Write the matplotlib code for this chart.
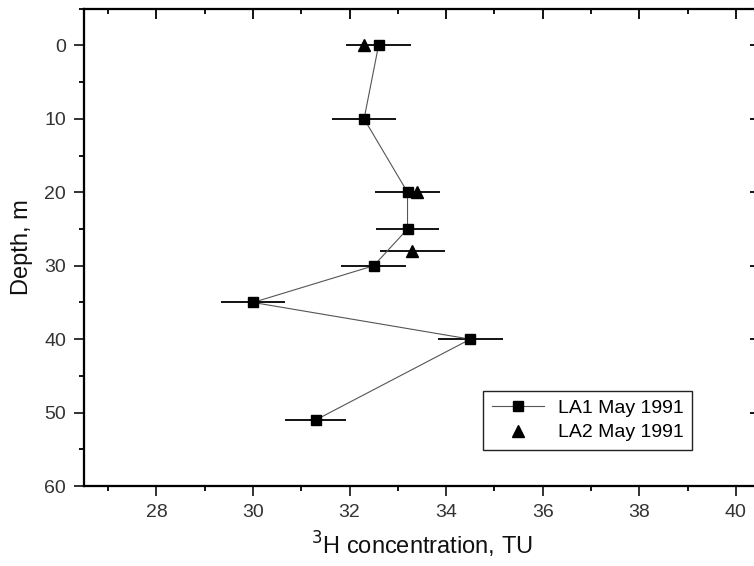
import numpy as np
import matplotlib.pyplot as plt
from matplotlib.ticker import MultipleLocator

# LA1 May 1991
depth1 = [0, 10, 20, 25, 30, 35, 40, 51]
conc1 = [32.6, 32.3, 33.2, 33.2, 32.5, 30.0, 34.5, 31.3]
err1 = [0.67, 0.67, 0.67, 0.65, 0.67, 0.67, 0.67, 0.63]

# LA2 May 1991
depth2 = [0, 20, 28]
conc2 = [32.3, 33.4, 33.3]
err2 = [0.0, 0.0, 0.67]

plt.rcParams['font.family'] = ['Liberation Sans', 'DejaVu Sans']

fig = plt.figure(figsize=(7.54, 5.66), dpi=100)
ax = fig.add_axes([0.1114, 0.1413, 0.8966, 0.8433])

ax.errorbar(conc1, depth1, xerr=err1, fmt='none', ecolor='black', elinewidth=1.3, capsize=0, zorder=2)
ax.plot(conc1, depth1, '-', color='#555555', lw=0.8, marker='s', ms=7.5, mfc='black', mec='black',
        label='LA1 May 1991', zorder=3)
ax.errorbar(conc2, depth2, xerr=err2, fmt='none', ecolor='black', elinewidth=1.3, capsize=0, zorder=2)
ax.plot(conc2, depth2, ls='none', marker='^', ms=9, mfc='black', mec='black',
        label='LA2 May 1991', zorder=3)

ax.set_xlim(26.5, 40.5)
ax.set_ylim(60, -5)
ax.xaxis.set_major_locator(MultipleLocator(2))
ax.xaxis.set_minor_locator(MultipleLocator(1))
ax.yaxis.set_major_locator(MultipleLocator(10))
ax.yaxis.set_minor_locator(MultipleLocator(5))
ax.set_xticks([28, 30, 32, 34, 36, 38, 40])
ax.set_yticks([0, 10, 20, 30, 40, 50, 60])

ax.tick_params(which='major', direction='out', length=7, width=1.3, labelsize=14, colors='#222222', pad=6)
ax.tick_params(which='minor', direction='out', length=3.5, width=1.3)
ax.tick_params(axis='y', labelcolor='#333333')
ax.tick_params(axis='x', labelcolor='#333333')
for s in ax.spines.values():
    s.set_linewidth(1.5)

# top / right ticks pointing in
tx = ax.twiny()
tx.set_xlim(ax.get_xlim())
tx.xaxis.set_major_locator(MultipleLocator(2))
tx.xaxis.set_minor_locator(MultipleLocator(1))
tx.tick_params(which='major', direction='in', length=7, width=1.3, labeltop=False)
tx.tick_params(which='minor', direction='in', length=3.5, width=1.3)
ty = ax.twinx()
ty.set_ylim(ax.get_ylim())
ty.yaxis.set_major_locator(MultipleLocator(10))
ty.yaxis.set_minor_locator(MultipleLocator(5))
ty.tick_params(which='major', direction='in', length=7, width=1.3, labelright=False)
ty.tick_params(which='minor', direction='in', length=3.5, width=1.3)
for a in (tx, ty):
    a.set_zorder(0)
    for s in a.spines.values():
        s.set_linewidth(1.5)

ax.set_xlabel(r'$^{3}$H concentration, TU', fontsize=17, color='#111111', labelpad=6)
ax.set_ylabel('Depth, m', fontsize=17, color='#111111', labelpad=8)

leg = ax.legend(loc='upper left', bbox_to_anchor=(0.59, 0.2), borderaxespad=0, fontsize=14,
                frameon=True, fancybox=False, edgecolor='#222222', framealpha=1, borderpad=0.45,
                handlelength=2.7, handletextpad=0.7, labelspacing=0.35)
leg.get_frame().set_linewidth(1.0)

fig.savefig('out.png', dpi=100)
